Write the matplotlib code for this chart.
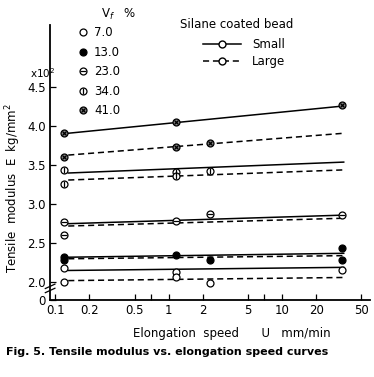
import matplotlib
matplotlib.use("Agg")
import matplotlib.pyplot as plt
from matplotlib.lines import Line2D
from matplotlib.legend_handler import HandlerTuple

# bead volume fraction Vf (%)
vf_labels = ["7.0", "13.0", "23.0", "34.0", "41.0"]

# elongation speed U (mm/min) where the fitted lines start and end
line_speed = [0.13, 35]

# tensile modulus E (x10^2 kg/mm^2) of the fitted lines, one pair per Vf
small_line_E = [[2.15, 2.19], [2.32, 2.37], [2.75, 2.86], [3.40, 3.54], [3.91, 4.26]]
large_line_E = [[2.02, 2.06], [2.30, 2.34], [2.72, 2.82], [3.31, 3.44], [3.63, 3.91]]

# measured points, small beads
small_pt_U = [[0.12, 1.17, 34], [0.12, 1.17, 34], [0.12, 1.17, 2.3, 34], [0.12, 1.17], [0.12, 1.17, 34]]
small_pt_E = [[2.18, 2.13, 2.15], [2.32, 2.35, 2.44], [2.77, 2.79, 2.88, 2.86], [3.44, 3.41], [3.91, 4.05, 4.27]]

# measured points, large beads
large_pt_U = [[0.12, 1.17, 2.3], [0.12, 2.3, 34], [0.12], [0.12, 1.17, 2.3], [0.12, 1.17, 2.3]]
large_pt_E = [[2.00, 2.06, 1.99], [2.29, 2.28, 2.28], [2.60], [3.26, 3.36, 3.42], [3.60, 3.73, 3.78]]

x_ticks = [0.1, 0.2, 0.5, 0.7, 1, 2, 5, 7, 10, 20, 50]
x_tick_labels = ["0.1", "0.2", "0.5", "", "1", "2", "5", "", "10", "20", "50"]
y_ticks = [1.77, 2.0, 2.5, 3.0, 3.5, 4.0, 4.5]
y_tick_labels = ["0", "2.0", "2.5", "3.0", "3.5", "4.0", "4.5"]

# symbol layers for each Vf (circle plus an optional bar / cross)
symbols = [
    [dict(marker="o", mfc="white", ms=5)],
    [dict(marker="o", mfc="black", ms=5)],
    [dict(marker="o", mfc="white", ms=5), dict(marker="_", ms=5)],
    [dict(marker="o", mfc="white", ms=5), dict(marker="|", ms=5)],
    [dict(marker="o", mfc="0.5", ms=5), dict(marker="x", ms=3.5)],
]

plt.rcParams["font.family"] = "DejaVu Sans"

fig = plt.figure(figsize=(3.74, 3.77), dpi=100)
ax = fig.add_axes([0.134, 0.204, 0.856, 0.73])

for i in range(len(vf_labels)):
    ax.plot(line_speed, small_line_E[i], color="black", lw=1.1, ls="-")
    ax.plot(line_speed, large_line_E[i], color="black", lw=1.1, ls=(0, (4, 2.5)))
    for layer in symbols[i]:
        ax.plot(small_pt_U[i], small_pt_E[i], ls="none", color="black", mec="black", mew=0.9, **layer)
        ax.plot(large_pt_U[i], large_pt_E[i], ls="none", color="black", mec="black", mew=0.9, **layer)

ax.set_xscale("log")
ax.set_xlim(0.09, 60)
ax.set_ylim(1.77, 5.3)
ax.set_xticks(x_ticks)
ax.set_xticklabels(x_tick_labels)
ax.minorticks_off()
ax.set_yticks(y_ticks)
ax.set_yticklabels(y_tick_labels)
ax.tick_params(direction="in", length=4, width=0.9, labelsize=8.5, pad=3)
for side in ["top", "right"]:
    ax.spines[side].set_visible(False)
for side in ["left", "bottom"]:
    ax.spines[side].set_linewidth(1.3)

# axis break near the bottom of the y axis
for dy in [0.035, 0.05]:
    ax.plot([-0.015, 0.015], [dy - 0.008, dy + 0.008], transform=ax.transAxes,
            color="black", lw=0.9, clip_on=False)

# Vf legend
fig.text(0.27, 0.962, "V$_f$   %", ha="left", va="center", fontsize=8.5)
vf_handles = []
for i in range(len(vf_labels)):
    vf_handles.append(tuple(
        Line2D([], [], ls="none", color="black", mec="black", mew=0.9, **layer)
        for layer in symbols[i]
    ))
leg1 = ax.legend(vf_handles, vf_labels, loc="upper left",
                 bbox_to_anchor=(0.185, 0.952), bbox_transform=fig.transFigure,
                 frameon=False, fontsize=8.5, handlelength=1.0,
                 handletextpad=0.4, labelspacing=0.55, borderpad=0.2,
                 handler_map={tuple: HandlerTuple(ndivide=1, pad=0)})
ax.add_artist(leg1)

# bead size legend
fig.text(0.482, 0.935, "Silane coated bead", ha="left", va="center", fontsize=8.5)
size_handles = [
    Line2D([], [], color="black", lw=1.1, ls="-", marker="o", mfc="white", mec="black", ms=5),
    Line2D([], [], color="black", lw=1.1, ls=(0, (4, 2.5)), marker="o", mfc="white", mec="black", ms=5),
]
ax.legend(size_handles, ["Small", "Large"], loc="upper left",
          bbox_to_anchor=(0.52, 0.92), bbox_transform=fig.transFigure,
          frameon=False, fontsize=8.5, handlelength=3.2,
          handletextpad=1.0, labelspacing=0.3, borderpad=0.2)

fig.text(0.035, 0.50, "Tensile  modulus  E  kg/mm$^2$", rotation=90, ha="center", va="center", fontsize=8.5)
fig.text(0.08, 0.805, "x10$^2$", ha="left", va="center", fontsize=7.5)
fig.text(0.62, 0.115, "Elongation  speed      U   mm/min", ha="center", va="center", fontsize=8.5)
fig.text(0.015, 0.065, "Fig. 5. Tensile modulus vs. elongation speed curves", ha="left", va="center",
         fontsize=8, fontweight="bold")

fig.savefig("out.png", dpi=100)
